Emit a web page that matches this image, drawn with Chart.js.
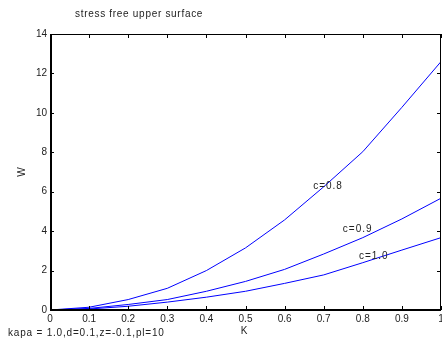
<!DOCTYPE html>
<html>
<head>
<meta charset="utf-8">
<script src="https://cdn.jsdelivr.net/npm/chart.js@4.4.0/dist/chart.umd.min.js"></script>
<style>
  html, body { margin: 0; padding: 0; background: #fff; }
  #wrap { width: 442px; height: 339px; }
</style>
</head>
<body>
<div id="wrap"><canvas id="w-chart" width="442" height="339"></canvas></div>
<script>
// K values along the x axis
const K_VALUES = [0, 0.1, 0.2, 0.3, 0.4, 0.5, 0.6, 0.7, 0.8, 0.9, 1.0];

// W for each c
const W_C08 = [0, 0.14, 0.53, 1.1, 2.0, 3.15, 4.57, 6.25, 8.03, 10.28, 12.6];
const W_C09 = [0, 0.08, 0.28, 0.53, 0.95, 1.45, 2.06, 2.84, 3.67, 4.62, 5.67];
const W_C10 = [0, 0.05, 0.19, 0.4, 0.65, 0.95, 1.35, 1.78, 2.4, 3.04, 3.67];

const X_TICKS = [0, 0.1, 0.2, 0.3, 0.4, 0.5, 0.6, 0.7, 0.8, 0.9, 1];
const Y_TICKS = [0, 2, 4, 6, 8, 10, 12, 14];

// curve labels: [text, K at left edge of text, W]
const CURVE_LABELS = [
    ['c=0.8', 0.673, 6.29],
    ['c=0.9', 0.749, 4.11],
    ['c=1.0', 0.79, 2.74]
];

const FONT = '"Liberation Sans", Arial, sans-serif';

function toPoints(ys) {
    return K_VALUES.map((k, i) => ({x: k, y: ys[i]}));
}

function series(label, ys) {
    return {
        label: label,
        data: toPoints(ys),
        borderColor: 'rgb(0, 0, 255)',
        borderWidth: 1,
        pointRadius: 0,
        tension: 0,
        fill: false
    };
}

/* box, inside ticks and the loose texts, MATLAB style */
const framePlugin = {
    id: 'frame',
    afterDraw(chart) {
        const ctx = chart.ctx;
        const a = chart.chartArea;
        const xs = chart.scales.x;
        const ys = chart.scales.y;
        ctx.save();
        ctx.strokeStyle = '#000';
        ctx.lineWidth = 1;
        ctx.strokeRect(a.left + 0.5, a.top + 0.5, a.right - a.left - 1, a.bottom - a.top);
        // left and bottom axes look a bit heavier
        ctx.lineWidth = 2;
        ctx.beginPath();
        ctx.moveTo(a.left + 1, a.top);
        ctx.lineTo(a.left + 1, a.bottom);
        ctx.lineTo(a.right, a.bottom);
        ctx.stroke();
        ctx.lineWidth = 1;
        ctx.beginPath();
        X_TICKS.forEach(v => {
            const px = Math.round(xs.getPixelForValue(v)) + 0.5;
            ctx.moveTo(px, a.bottom); ctx.lineTo(px, a.bottom - 4);
            ctx.moveTo(px, a.top); ctx.lineTo(px, a.top + 4);
        });
        Y_TICKS.forEach(v => {
            const py = Math.round(ys.getPixelForValue(v)) + 0.5;
            ctx.moveTo(a.left, py); ctx.lineTo(a.left + 4, py);
            ctx.moveTo(a.right, py); ctx.lineTo(a.right - 4, py);
        });
        ctx.stroke();

        ctx.fillStyle = '#222';
        ctx.font = '10px ' + FONT;
        ctx.textBaseline = 'middle';
        ctx.textAlign = 'left';
        ctx.letterSpacing = '1px';
        CURVE_LABELS.forEach(([t, k, w]) => {
            ctx.fillText(t, xs.getPixelForValue(k), ys.getPixelForValue(w));
        });

        ctx.letterSpacing = '0.7px';
        ctx.fillText('stress free upper surface', 75, 14);
        ctx.letterSpacing = '0.8px';
        ctx.fillText('kapa = 1.0,d=0.1,z=-0.1,pl=10', 8, 333);
        ctx.letterSpacing = '0px';
        ctx.textAlign = 'center';
        ctx.fillText('K', 244, 331);
        ctx.translate(22, 172);
        ctx.rotate(-Math.PI / 2);
        ctx.fillText('W', 0, 0);
        ctx.restore();
    }
};

function initChart() {
    const ctx = document.getElementById('w-chart');
    return new Chart(ctx, {
        type: 'line',
        data: {
            datasets: [
                series('c=0.8', W_C08),
                series('c=0.9', W_C09),
                series('c=1.0', W_C10)
            ]
        },
        options: {
            responsive: false,
            animation: false,
            layout: {
                autoPadding: false,
                padding: {top: 34, right: 1, left: 0, bottom: 0}
            },
            plugins: {
                legend: {display: false},
                tooltip: {enabled: false}
            },
            scales: {
                x: {
                    type: 'linear',
                    min: 0,
                    max: 1,
                    afterFit: (s) => { s.height = 29; s.paddingLeft = 0; s.paddingRight = 0; },
                    afterBuildTicks: (s) => { s.ticks = X_TICKS.map(v => ({value: v})); },
                    grid: {display: false, drawTicks: false},
                    border: {display: false},
                    ticks: {
                        padding: 3,
                        maxRotation: 0,
                        autoSkip: false,
                        color: '#222',
                        font: {family: FONT, size: 10},
                        callback: (v) => String(Math.round(v * 10) / 10)
                    }
                },
                y: {
                    type: 'linear',
                    min: 0,
                    max: 14,
                    afterFit: (s) => { s.width = 50; s.paddingTop = 0; s.paddingBottom = 0; },
                    afterBuildTicks: (s) => { s.ticks = Y_TICKS.map(v => ({value: v})); },
                    grid: {display: false, drawTicks: false},
                    border: {display: false},
                    ticks: {
                        padding: 3,
                        autoSkip: false,
                        color: '#222',
                        font: {family: FONT, size: 10}
                    }
                }
            }
        },
        plugins: [framePlugin]
    });
}

var wChart = initChart();
</script>
</body>
</html>
